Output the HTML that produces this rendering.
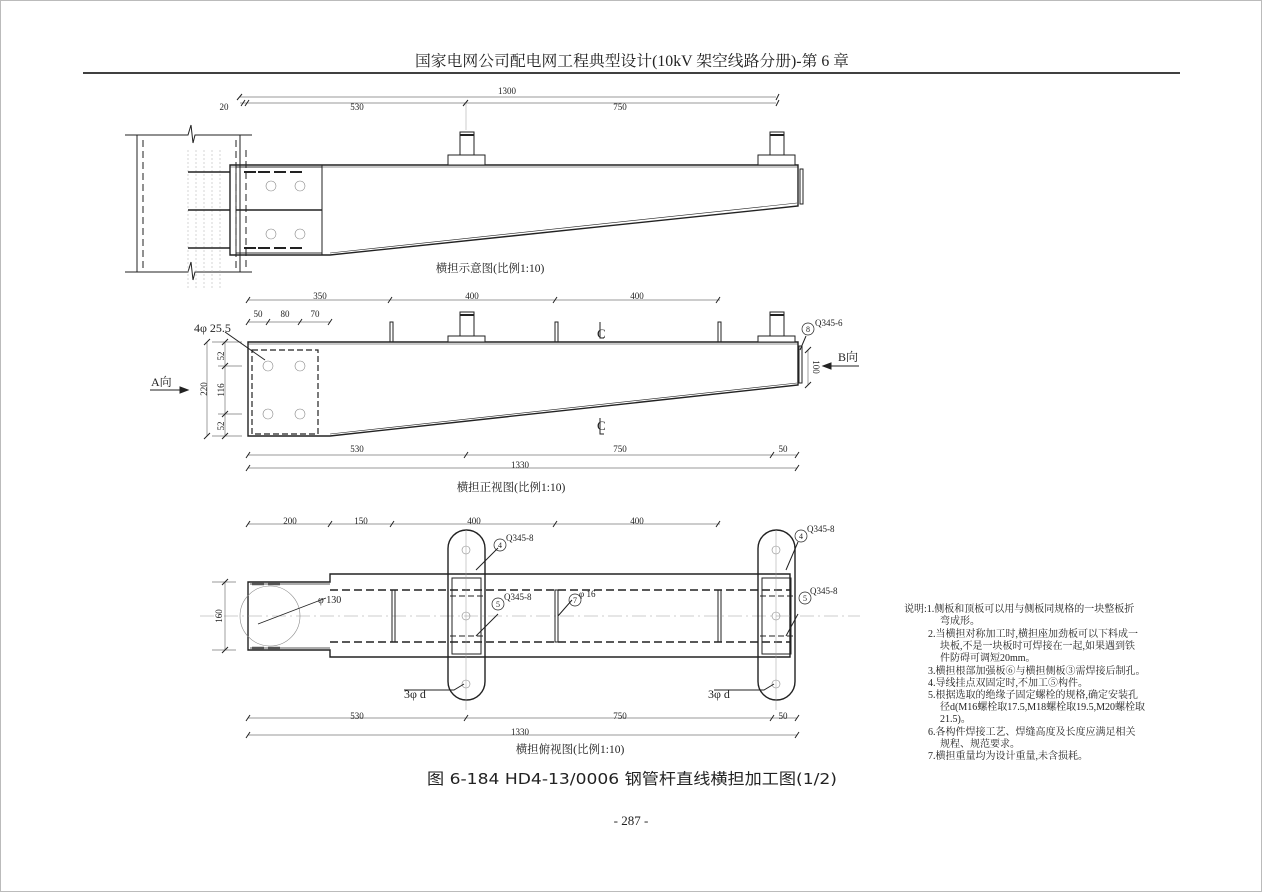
<!DOCTYPE html>
<html><head><meta charset="utf-8"><style>
html,body{margin:0;padding:0;background:#fff;}
svg{display:block;}
text{font-family:"Liberation Serif","Noto Serif CJK SC","Noto Sans CJK SC",serif;fill:#222;}
.d{font-size:9px;}
.n{font-size:10px;}
</style></head><body>
<svg width="1262" height="892" viewBox="0 0 1262 892" xmlns="http://www.w3.org/2000/svg">
<rect x="0.5" y="0.5" width="1261" height="891" fill="#fff" stroke="#bbb"/>
<text x="632" y="66" text-anchor="middle" font-size="15.5" textLength="434" lengthAdjust="spacingAndGlyphs">国家电网公司配电网工程典型设计(10kV 架空线路分册)-第 6 章</text>
<line x1="83" y1="73" x2="1180" y2="73" stroke="#000" stroke-width="1.5"/>

<g stroke="#222" fill="none" stroke-width="1">
<!-- VIEW 1 -->
<line x1="240" y1="97" x2="776" y2="97" stroke="#777" stroke-width="0.7"/>
<line x1="240" y1="103" x2="776" y2="103" stroke="#777" stroke-width="0.7"/>
<path d="M237 100l5-6M776 100l3-6M463 106l5-6M776 106l3-6M241 106l4-6M245 106l4-6" stroke-width="1"/>
<line x1="466" y1="103" x2="466" y2="130" stroke="#999" stroke-width="0.5"/>
<path d="M125 135H188l3-10 2 18 2-8H252M125 272H188l3-10 2 18 2-8H252"/>
<line x1="137" y1="135" x2="137" y2="272"/>
<line x1="143" y1="140" x2="143" y2="268" stroke-dasharray="7 4"/>
<line x1="240" y1="135" x2="240" y2="272"/>
<line x1="236" y1="140" x2="236" y2="268" stroke-dasharray="7 4"/>
<line x1="246" y1="150" x2="246" y2="268" stroke-dasharray="7 4"/>
<g stroke="#aaa" stroke-width="0.5" stroke-dasharray="2 2"><line x1="188" y1="150" x2="188" y2="290"/><line x1="196" y1="150" x2="196" y2="290"/><line x1="204" y1="150" x2="204" y2="290"/><line x1="212" y1="150" x2="212" y2="290"/><line x1="220" y1="150" x2="220" y2="290"/></g>
<path d="M188 172H230M188 210H230M188 248H230" stroke-width="1.6"/>
<path d="M230 165H798V206L330 255H230Z" stroke-width="1.4"/>
<path d="M330 253L797 203" stroke-width="0.6"/>
<line x1="230" y1="167" x2="798" y2="167" stroke-width="0.6"/>
<rect x="800" y="169" width="3" height="35" stroke-width="1"/>
<rect x="236" y="167" width="86" height="86" stroke-width="0.9"/>
<line x1="322" y1="165" x2="322" y2="255"/>
<line x1="236" y1="210" x2="322" y2="210" stroke-width="1.6"/>
<path d="M244 172h12M258 172h12M274 172h12M290 172h12M244 248h12M258 248h12M274 248h12M290 248h12" stroke-width="2"/>
<g stroke="#888" stroke-width="0.6"><circle cx="271" cy="186" r="5"/><circle cx="300" cy="186" r="5"/><circle cx="271" cy="234" r="5"/><circle cx="300" cy="234" r="5"/></g>
<path d="M460 132h14v23h-14zM448 155h37v10h-37zM770 132h14v23h-14zM758 155h37v10h-37z" fill="#fff"/>
<path d="M460 135h14M770 135h14" stroke-width="2"/>

<!-- VIEW 2 -->
<path d="M248 300H720M248 322H330M248 455H797M248 468H797" stroke="#777" stroke-width="0.7"/>
<path d="M246 303l4-6M388 303l4-6M553 303l4-6M716 303l4-6M246 325l4-6M266 325l4-6M298 325l4-6M328 325l4-6M246 458l4-6M464 458l4-6M770 458l4-6M795 458l4-6M246 471l4-6M795 471l4-6"/>
<path d="M248 342H798V385L330 436H248Z" stroke-width="1.4"/>
<line x1="248" y1="344" x2="798" y2="344" stroke-width="0.6"/>
<path d="M330 434L797 383" stroke-width="0.6"/>
<rect x="799" y="346" width="3" height="37"/>
<rect x="252" y="350" width="66" height="84" stroke-dasharray="6 3" stroke-width="1.2"/>
<g stroke="#888" stroke-width="0.6"><circle cx="268" cy="366" r="5"/><circle cx="300" cy="366" r="5"/><circle cx="268" cy="414" r="5"/><circle cx="300" cy="414" r="5"/></g>
<path d="M390 322h3v20h-3zM555 322h3v20h-3zM718 322h3v20h-3z"/>
<path d="M460 312h14v24h-14zM448 336h37v6h-37zM770 312h14v24h-14zM758 336h37v6h-37z" fill="#fff"/>
<path d="M460 315h14M770 315h14" stroke-width="2"/>
<path d="M207 342v94M225 342v94M212 342h30M212 436h30M218 366h24M218 414h24" stroke="#777" stroke-width="0.7"/>
<path d="M204 345l6-6M222 345l6-6M222 369l6-6M222 417l6-6M222 439l6-6M204 439l6-6"/>
<path d="M808 350v35" stroke="#777" stroke-width="0.7"/>
<path d="M805 353l6-6M805 388l6-6M806 336l-6 14M225 332l40 28"/>
<path d="M150 390h38M823 366h36"/>
<path d="M188 390l-8-3v6z M823 366l8-3v6z" fill="#222"/>
<path d="M600 322v16h4M600 418v16h4"/>

<!-- VIEW 3 -->
<path d="M248 524H720M248 718H797M248 735H797" stroke="#777" stroke-width="0.7"/>
<path d="M246 527l4-6M328 527l4-6M390 527l4-6M553 527l4-6M716 527l4-6M246 721l4-6M464 721l4-6M770 721l4-6M795 721l4-6M246 738l4-6M795 738l4-6"/>
<path d="M248 582H330V574H790V657H330V650H248Z" stroke-width="1.4"/>
<path d="M250 584h80M250 648h80" stroke-width="0.7"/>
<path d="M252 584h12M268 584h12M252 648h12M268 648h12" stroke-width="2.4" stroke="#555"/>
<path d="M330 590H790M330 642H790" stroke-dasharray="8 4" stroke-width="1.4"/>
<path d="M450 596H485M450 636H485M760 596H795M760 636H795" stroke-dasharray="6 3" stroke-width="1"/>
<line x1="200" y1="616" x2="860" y2="616" stroke="#999" stroke-width="0.5" stroke-dasharray="14 4 2 4"/>
<circle cx="270" cy="616" r="30" stroke="#888" stroke-width="0.6"/>
<path d="M258 624L326 598" stroke-width="0.8"/>
<path d="M392 590h3v52h-3zM555 590h3v52h-3zM718 590h3v52h-3z"/>
<rect x="448" y="530" width="37" height="170" rx="18.5" stroke-width="1.4" fill="none"/>
<rect x="758" y="530" width="37" height="170" rx="18.5" stroke-width="1.4" fill="none"/>
<rect x="452" y="578" width="29" height="76"/>
<rect x="762" y="578" width="29" height="76"/>
<g stroke="#888" stroke-width="0.6"><circle cx="466" cy="550" r="4"/><circle cx="466" cy="616" r="4"/><circle cx="466" cy="684" r="4"/><circle cx="776" cy="550" r="4"/><circle cx="776" cy="616" r="4"/><circle cx="776" cy="684" r="4"/></g>
<path d="M466 530v180M776 530v180" stroke="#999" stroke-width="0.5"/>
<path d="M225 582v68M212 582h24M212 650h24" stroke="#777" stroke-width="0.7"/>
<path d="M222 585l6-6M222 653l6-6"/>
<path d="M404 690h50l10-6M714 690h50l10-6M476 570l22-22M476 636l22-22M786 570l12-28M786 636l12-22M558 616l14-16"/>
<circle cx="500" cy="545" r="6" stroke-width="0.7"/><circle cx="498" cy="604" r="6" stroke-width="0.7"/><circle cx="575" cy="600" r="6" stroke-width="0.7"/>
<circle cx="801" cy="536" r="6" stroke-width="0.7"/><circle cx="805" cy="598" r="6" stroke-width="0.7"/><circle cx="808" cy="329" r="6" stroke-width="0.7"/>
</g>

<g class="d">
<text x="507" y="94" text-anchor="middle">1300</text>
<text x="357" y="110" text-anchor="middle">530</text>
<text x="620" y="110" text-anchor="middle">750</text>
<text x="224" y="110" text-anchor="middle">20</text>
<text x="320" y="299" text-anchor="middle">350</text>
<text x="472" y="299" text-anchor="middle">400</text>
<text x="637" y="299" text-anchor="middle">400</text>
<text x="258" y="317" text-anchor="middle">50</text>
<text x="285" y="317" text-anchor="middle">80</text>
<text x="315" y="317" text-anchor="middle">70</text>
<text x="357" y="452" text-anchor="middle">530</text>
<text x="620" y="452" text-anchor="middle">750</text>
<text x="783" y="452" text-anchor="middle">50</text>
<text x="520" y="468" text-anchor="middle">1330</text>
<text transform="translate(207,389) rotate(-90)" text-anchor="middle">220</text>
<text transform="translate(224,356) rotate(-90)" text-anchor="middle">52</text>
<text transform="translate(224,390) rotate(-90)" text-anchor="middle">116</text>
<text transform="translate(224,426) rotate(-90)" text-anchor="middle">52</text>
<text transform="translate(813,367) rotate(90)" text-anchor="middle">100</text>
<text x="815" y="326">Q345-6</text>
<text x="597" y="338" font-size="13">C</text>
<text x="597" y="430" font-size="13">C</text>
<text x="290" y="524" text-anchor="middle">200</text>
<text x="361" y="524" text-anchor="middle">150</text>
<text x="474" y="524" text-anchor="middle">400</text>
<text x="637" y="524" text-anchor="middle">400</text>
<text transform="translate(222,616) rotate(-90)" text-anchor="middle">160</text>
<text x="318" y="603" font-size="10">φ 130</text>
<text x="506" y="541">Q345-8</text>
<text x="504" y="600">Q345-8</text>
<text x="579" y="597">φ 16</text>
<text x="807" y="532">Q345-8</text>
<text x="810" y="594">Q345-8</text>
<text x="357" y="719" text-anchor="middle">530</text>
<text x="620" y="719" text-anchor="middle">750</text>
<text x="783" y="719" text-anchor="middle">50</text>
<text x="520" y="735" text-anchor="middle">1330</text>
<text x="500" y="548" text-anchor="middle" font-size="8">4</text>
<text x="498" y="607" text-anchor="middle" font-size="8">5</text>
<text x="575" y="603" text-anchor="middle" font-size="8">7</text>
<text x="801" y="539" text-anchor="middle" font-size="8">4</text>
<text x="805" y="601" text-anchor="middle" font-size="8">5</text>
<text x="808" y="332" text-anchor="middle" font-size="8">8</text>
</g>
<text x="194" y="332" font-size="12">4φ 25.5</text>
<text x="151" y="386" font-size="12">A向</text>
<text x="838" y="361" font-size="12">B向</text>
<text x="404" y="698" font-size="12">3φ d</text>
<text x="708" y="698" font-size="12">3φ d</text>
<text x="490" y="272" text-anchor="middle" font-size="11.5">横担示意图(比例1:10)</text>
<text x="511" y="491" text-anchor="middle" font-size="11.5">横担正视图(比例1:10)</text>
<text x="570" y="753" text-anchor="middle" font-size="11.5">横担俯视图(比例1:10)</text>
<text x="632" y="784" text-anchor="middle" font-size="15.5" style="font-family:'DejaVu Sans','Noto Sans CJK SC',sans-serif" textLength="410" lengthAdjust="spacingAndGlyphs">图 6-184  HD4-13/0006 钢管杆直线横担加工图(1/2)</text>
<text x="631" y="825" text-anchor="middle" font-size="13">- 287 -</text>
<g class="n">
<text x="904" y="612">说明:1.侧板和顶板可以用与侧板同规格的一块整板折</text>
<text x="940" y="624">弯成形。</text>
<text x="928" y="637">2.当横担对称加工时,横担座加劲板可以下料成一</text>
<text x="940" y="649">块板,不是一块板时可焊接在一起,如果遇到铁</text>
<text x="940" y="661">件防碍可调短20mm。</text>
<text x="928" y="674">3.横担根部加强板⑥与横担侧板③需焊接后制孔。</text>
<text x="928" y="686">4.导线挂点双固定时,不加工⑤构件。</text>
<text x="928" y="698">5.根据选取的绝缘子固定螺栓的规格,确定安装孔</text>
<text x="940" y="710">径d(M16螺栓取17.5,M18螺栓取19.5,M20螺栓取</text>
<text x="940" y="722">21.5)。</text>
<text x="928" y="735">6.各构件焊接工艺、焊缝高度及长度应满足相关</text>
<text x="940" y="747">规程、规范要求。</text>
<text x="928" y="759">7.横担重量均为设计重量,未含损耗。</text>
</g>
</svg>
</body></html>
